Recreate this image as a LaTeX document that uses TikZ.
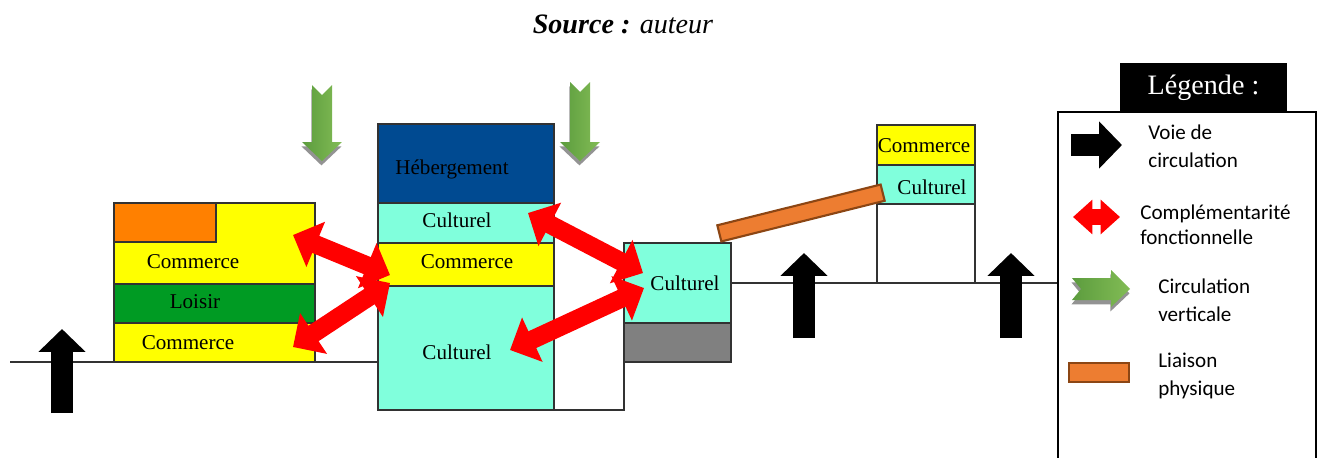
\documentclass[tikz,border=0pt]{standalone}
\usepackage{fontspec}
\setmainfont{Liberation Serif}
\newfontfamily\calibri{Carlito}
\usetikzlibrary{arrows.meta, shadows, positioning}
\usepackage{xcolor}

\definecolor{jaune}{RGB}{255,255,0}
\definecolor{orangebloc}{RGB}{255,128,0}
\definecolor{vertloisir}{RGB}{0,155,35}
\definecolor{cyanculture}{RGB}{128,255,220}
\definecolor{bleuheb}{RGB}{0,74,145}
\definecolor{grisbloc}{RGB}{128,128,128}
\definecolor{orangelien}{RGB}{237,125,49}
\definecolor{brunlien}{RGB}{140,70,20}
\definecolor{vertclair}{RGB}{130,188,85}
\definecolor{vertfonce}{RGB}{92,156,62}
\definecolor{trait}{RGB}{50,50,50}

\tikzstyle{bloc}      = [draw=trait, line width=0.8pt]
\tikzstyle{etiquette} = [font=\fontsize{12}{14}\selectfont, inner sep=0pt]
\tikzstyle{voie}      = [line width=13pt, -{Triangle[length=13pt, width=26pt]}]
\tikzstyle{compl}     = [red, line width=10.5pt, {Triangle[length=14pt, width=27pt]}-{Triangle[length=14pt, width=27pt]}]
\tikzstyle{liaison}   = [draw=brunlien, fill=orangelien, line width=1.2pt, inner sep=0pt]
\tikzstyle{circvert}  = [left color=vertfonce, right color=vertclair, drop shadow={shadow xshift=-0.3pt, shadow yshift=-2.5pt, fill=gray!85, opacity=1}]
\tikzstyle{legtexte}  = [font=\calibri\fontsize{12}{16}\selectfont, align=left, anchor=west, inner sep=0pt]

\begin{document}
\begin{tikzpicture}[x=0.02cm, y=-0.02cm]
\useasboundingbox (0,0) rectangle (1325,457);

\node[font=\fontsize{16}{18}\selectfont] (source) at (623,24) {\textbf{\textit{Source :}} \textit{auteur}};

% sol
\draw[bloc, line width=0.6pt] (10,362) -- (378,362);
\draw[bloc, line width=0.6pt] (731,283) -- (1058,283);

% batiment gauche
\draw[bloc, fill=jaune] (114,203) rectangle (315,284);
\draw[bloc, fill=orangebloc] (114,203) rectangle (216,242);
\draw[bloc, fill=vertloisir] (114,284) rectangle (315,323);
\draw[bloc, fill=jaune] (114,323) rectangle (315,362);

% batiment central
\draw[bloc, fill=bleuheb] (378,124) rectangle (554,203);
\draw[bloc, fill=cyanculture] (378,203) rectangle (554,243);
\draw[bloc, fill=jaune] (378,243) rectangle (554,286);
\draw[bloc, fill=cyanculture] (378,286) rectangle (554,410);
\draw[bloc] (554,410) -| (624,362);

% batiment droit
\draw[bloc, fill=cyanculture] (624,243) rectangle (731,323);
\draw[bloc, fill=grisbloc] (624,323) rectangle (731,362);

% batiment haut
\draw[bloc] (877,204) rectangle (975,283);
\draw[bloc, fill=jaune] (877,125) rectangle (975,165);
\draw[bloc, fill=cyanculture] (877,165) rectangle (975,204);

\node[etiquette] (comG1) at (193,262) {Commerce};
\node[etiquette] (loisir) at (195,302) {Loisir};
\node[etiquette] (comG2) at (188,343) {Commerce};
\node[etiquette] (heb) at (452,169) {Hébergement};
\node[etiquette] (cultC1) at (457,220) {Culturel};
\node[etiquette] (comC) at (467,262) {Commerce};
\node[etiquette] (cultC2) at (457,352) {Culturel};
\node[etiquette] (cultD) at (685,283) {Culturel};
\node[etiquette] (comH) at (924,146) {Commerce};
\node[etiquette] (cultH) at (932,187) {Culturel};

% liaison physique
\node[liaison, rotate=14, minimum width=95.8pt, minimum height=9.5pt] (lien) at (801,213) {};

% complementarite
\coordinate (a1) at (293,235);
\coordinate (a2) at (390,275);
\coordinate (b1) at (293,347);
\coordinate (b2) at (390,283);
\coordinate (c1) at (528,213);
\coordinate (c2) at (643,273);
\coordinate (d1) at (510,350);
\coordinate (d2) at (644,288);

\draw[compl] (a1) -- (a2);
\draw[compl] (b1) -- (b2);
\draw[compl] (c1) -- (c2);
\draw[compl] (d1) -- (d2);

% voies de circulation
\coordinate (v1b) at (62,413);
\coordinate (v1h) at (62,329);
\coordinate (v2b) at (804,338);
\coordinate (v2h) at (804,253);
\coordinate (v3b) at (1011,338);
\coordinate (v3h) at (1011,253);

\draw[voie] (v1b) -- (v1h);
\draw[voie] (v2b) -- (v2h);
\draw[voie] (v3b) -- (v3h);

% circulation verticale
\path[circvert] (312,85) -- (322,95) -- (332,85) -- (332,142) -- (342,142) -- (322,161) -- (302,142) -- (312,142) -- cycle;
\path[circvert] (570,82) -- (580,92) -- (590,82) -- (590,142) -- (600,142) -- (580,161) -- (560,142) -- (570,142) -- cycle;

% legende
\draw[line width=1.6pt] (1058,112) rectangle (1316,470);
\node[fill=black, text=white, inner sep=0pt, minimum width=94.7pt, minimum height=27.8pt, font=\fontsize{16}{18}\selectfont] (titreleg) at (1203.5,87.5) {Légende :};

\coordinate (lv1) at (1071,145);
\coordinate (lv2) at (1122,145);
\draw[voie] (lv1) -- (lv2);
\node[legtexte] (tvoie) at (1148,146) {Voie de\\circulation};

\coordinate (lc1) at (1073,217);
\coordinate (lc2) at (1120,217);
\draw[red, line width=9.5pt, {Triangle[length=11pt, width=19pt]}-{Triangle[length=11pt, width=19pt]}] (lc1) -- (lc2);
\node[legtexte, font=\calibri\fontsize{12}{14.5}\selectfont] (tcompl) at (1140,225) {Complémentarité\\fonctionnelle};

\path[circvert] (1072,278) -- (1111,278) -- (1111,270) -- (1130,289) -- (1111,307) -- (1111,300) -- (1072,300) -- (1081,289) -- cycle;
\node[legtexte] (tcirc) at (1158,300) {Circulation\\verticale};

\node[liaison, minimum width=34pt, minimum height=10.8pt] (lliaison) at (1099,372.5) {};
\node[legtexte] (tliaison) at (1158,376) {Liaison\\physique};

\end{tikzpicture}
\end{document}
